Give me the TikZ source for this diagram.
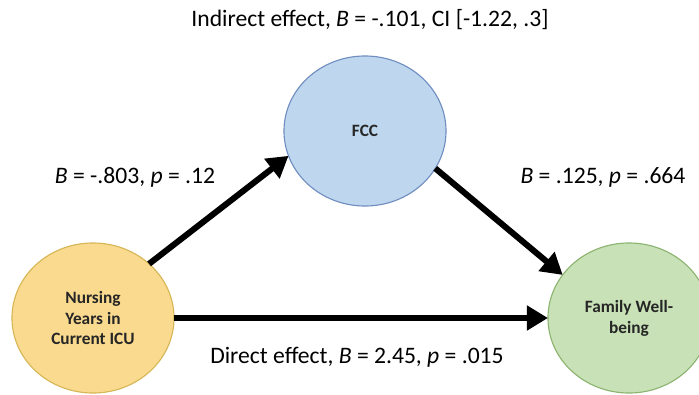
\documentclass[tikz,border=0pt]{standalone}
\usepackage{fontspec}
\setmainfont{Carlito}
\usetikzlibrary{shapes.geometric,arrows.meta}
\definecolor{predfill}{RGB}{250,218,142}
\definecolor{preddraw}{RGB}{214,182,86}
\definecolor{medfill}{RGB}{190,214,238}
\definecolor{meddraw}{RGB}{112,142,192}
\definecolor{outfill}{RGB}{200,225,182}
\definecolor{outdraw}{RGB}{140,180,112}
\tikzstyle{var}=[ellipse,minimum width=4.05cm,minimum height=3.75cm,inner sep=0pt,outer sep=0pt,line width=0.8pt,align=center,font=\fontsize{12.3}{14.9}\selectfont\bfseries,text=black!85]
\tikzstyle{path edge}=[draw,line width=4.3pt,-{Triangle[length=15pt,width=17pt]}]
\tikzstyle{coef}=[font=\fontsize{16.8}{20}\selectfont]
\begin{document}
\begin{tikzpicture}[x=0.025cm,y=-0.025cm]
  \useasboundingbox (0,0) rectangle (699,395);
  % The three variables
  \node[var,fill=predfill,draw=preddraw] (years) at (93,318) {Nursing\\Years in\\Current ICU};
  \node[var,fill=medfill,draw=meddraw] (fcc) at (365,131) {FCC};
  \node[var,fill=outfill,draw=outdraw] (wellbeing) at (629,318) {Family Well-\\being};

  % Paths between them
  \foreach \source/\dest in {years.44/fcc.198, fcc.-28/wellbeing.147, years.east/wellbeing.west}
    \path[path edge] (\source) -- (\dest);

  % Effect labels
  \node[coef] (indirect) at (370,20) {Indirect effect, \textit{B} = -.101, CI [-1.22, .3]};
  \node[coef] (apath) at (135,177) {\textit{B} = -.803, \textit{p} = .12};
  \node[coef] (bpath) at (603,177) {\textit{B} = .125, \textit{p} = .664};
  \node[coef] (direct) at (357,357) {Direct effect, \textit{B} = 2.45, \textit{p} = .015};
\end{tikzpicture}
\end{document}
